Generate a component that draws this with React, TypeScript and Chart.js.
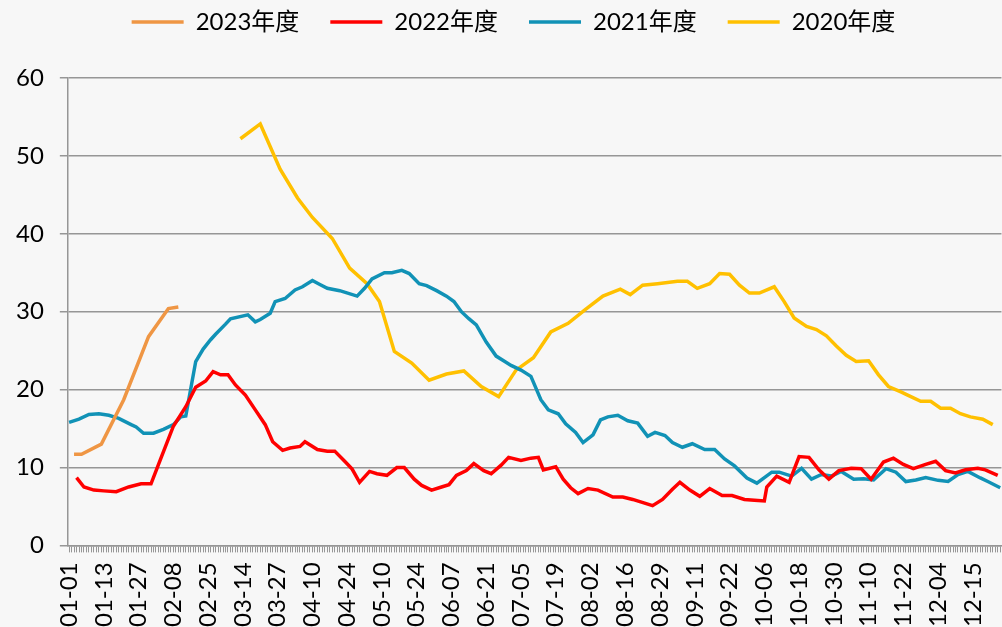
import React, { useEffect, useRef } from 'react';
import { Chart, registerables } from 'chart.js';

Chart.register(...registerables);

const tickLabels = ['01-01','01-13','01-27','02-08','02-25','03-14','03-27','04-10','04-24','05-10','05-24','06-07','06-21','07-05','07-19','08-02','08-16','08-29','09-11','09-22','10-06','10-18','10-30','11-10','11-22','12-04','12-15'];
const categoryCount = 376;
const labelEvery = 14;

const seriesNames = ['2023年度', '2022年度', '2021年度', '2020年度'];
const seriesColors = ['#EF9644', '#FF0000', '#1192B6', '#FFC000'];

const x2023 = [2, 5, 13, 22, 32, 40, 44];
const y2023 = [11.7, 11.7, 13.0, 18.7, 26.8, 30.4, 30.6];

const x2022 = [3,6,10,14,19,24,29,33,37,42,47,51,55,58,61,64,67,71,75,79,82,86,89,93,95,100,104,107,111,114,117,121,124,128,132,135,139,142,146,150,153,156,160,163,167,170,174,177,182,186,189,191,196,199,202,205,209,213,219,223,227,235,239,243,246,250,254,258,263,267,272,276,280,281,285,290,294,298,302,306,310,315,319,323,328,332,336,340,345,349,353,357,361,366,369,374];
const y2022 = [8.7,7.5,7.1,7.0,6.9,7.5,7.9,7.9,11.2,15.3,17.8,20.3,21.1,22.3,21.9,21.9,20.6,19.3,17.4,15.5,13.3,12.2,12.5,12.7,13.3,12.3,12.1,12.1,10.8,9.8,8.1,9.5,9.2,9.0,10.0,10.0,8.5,7.7,7.1,7.5,7.8,9.0,9.6,10.5,9.6,9.2,10.3,11.3,10.9,11.2,11.3,9.7,10.1,8.5,7.4,6.65,7.3,7.1,6.2,6.2,5.9,5.1,5.9,7.2,8.1,7.1,6.3,7.3,6.4,6.4,5.9,5.8,5.7,7.5,8.9,8.1,11.4,11.3,9.7,8.5,9.6,9.9,9.85,8.5,10.7,11.2,10.4,9.85,10.4,10.8,9.6,9.3,9.7,9.9,9.7,9.0];

const x2021 = [0,4,8,12,16,20,25,27,30,34,38,42,45,47,51,54,57,59,63,65,72,75,77,81,83,87,91,94,98,101,104,109,116,119,122,127,130,134,137,141,144,148,152,155,158,161,164,168,172,175,178,182,186,190,193,197,200,204,207,211,214,217,221,225,229,233,236,240,243,247,251,256,260,264,268,273,277,283,286,291,295,299,303,307,311,316,320,324,329,333,337,341,345,350,354,358,362,367,370,375];
const y2021 = [15.8,16.2,16.8,16.9,16.7,16.3,15.5,15.2,14.4,14.4,14.9,15.5,16.5,16.6,23.6,25.2,26.4,27.1,28.4,29.1,29.6,28.7,29.0,29.8,31.3,31.7,32.8,33.2,34.0,33.5,33.0,32.7,32.0,33.0,34.2,35.0,35.0,35.3,34.9,33.6,33.35,32.7,32.0,31.3,30.0,29.1,28.3,26.1,24.3,23.7,23.1,22.5,21.7,18.7,17.4,16.9,15.6,14.5,13.2,14.2,16.1,16.5,16.7,16.0,15.7,14.0,14.5,14.1,13.2,12.6,13.05,12.3,12.3,11.1,10.2,8.66,8.0,9.4,9.4,8.9,9.9,8.5,9.1,8.9,9.5,8.5,8.55,8.4,9.85,9.4,8.2,8.4,8.7,8.35,8.2,9.1,9.5,8.66,8.2,7.4];

const x2020 = [69,77,85,92,98,106,113,120,125,131,138,145,152,159,166,173,180,187,194,201,208,215,222,226,231,237,245,249,253,258,262,266,270,274,278,284,288,292,297,301,305,309,313,317,322,326,330,335,339,343,347,351,355,359,363,368,372];
const y2020 = [52.2,54.1,48.3,44.6,42.1,39.4,35.6,33.6,31.3,24.9,23.4,21.2,22.0,22.4,20.4,19.1,22.5,24.1,27.4,28.5,30.3,32.0,32.9,32.2,33.4,33.6,33.9,33.9,33.0,33.6,34.9,34.8,33.4,32.4,32.4,33.2,31.3,29.2,28.1,27.7,26.9,25.6,24.4,23.6,23.7,21.9,20.4,19.7,19.1,18.5,18.5,17.6,17.6,16.9,16.5,16.2,15.5];

const seriesX = [x2023, x2022, x2021, x2020];
const seriesY = [y2023, y2022, y2021, y2020];

const FONT = "Lato, 'Noto Sans CJK SC', sans-serif";
const GRID = '#969696';

const CANVAS_W = 1039;
const CANVAS_H = 627;

export default function App() {
  const ref = useRef<HTMLCanvasElement | null>(null);

  useEffect(() => {
    document.body.style.margin = '0';
    const canvas = ref.current;
    if (!canvas) return;
    const datasets = seriesNames.map((name, k) => ({
      label: name,
      data: seriesX[k].map((xv, i) => ({ x: xv, y: seriesY[k][i] })),
      borderColor: seriesColors[k],
      backgroundColor: seriesColors[k],
      borderWidth: 3.5,
      pointRadius: 0,
      tension: 0,
      fill: false,
    }));

    const legendTweak = {
      id: 'legendTweak',
      beforeInit(chart: any) {
        const legend = chart.legend;
        if (!legend) return;
        const fit = legend.fit;
        legend.fit = function () {
          fit.bind(legend)();
          this.height += 34;
        };
        const draw = legend.draw;
        legend.draw = function (...args: any[]) {
          const ctx = chart.ctx;
          ctx.save();
          ctx.translate(-6, 0);
          draw.apply(legend, args);
          ctx.restore();
        };
      },
    };

    const chart = new Chart(canvas, {
      type: 'line',
      data: { datasets },
      plugins: [legendTweak],
      options: {
        animation: false,
        responsive: false,
        devicePixelRatio: 1,
        layout: { padding: { top: -21, left: 0, right: 0, bottom: -10 } },
        plugins: {
          legend: {
            position: 'top',
            labels: {
              usePointStyle: true,
              pointStyle: 'line',
              pointStyleWidth: 52,
              padding: 31,
              color: '#000',
              font: { family: FONT, size: 24 },
            },
          },
          tooltip: { enabled: false },
        },
        scales: {
          x: {
            type: 'linear',
            min: -0.5,
            max: categoryCount - 0.5,
            afterBuildTicks: (scale: any) => {
              scale.ticks = Array.from({ length: categoryCount }, (_, i) => ({ value: i }));
            },
            ticks: {
              autoSkip: false,
              minRotation: 90,
              maxRotation: 90,
              padding: 10,
              color: '#000',
              font: { family: FONT, size: 24 },
              callback: (v: any) => (Number(v) % labelEvery === 0 ? tickLabels[Number(v) / labelEvery] ?? '' : ''),
            },
            grid: { drawOnChartArea: false, drawTicks: true, tickLength: 7, color: GRID, lineWidth: 1 },
            border: { color: GRID, width: 1.5 },
          },
          y: {
            min: 0,
            max: 60,
            ticks: {
              stepSize: 10,
              padding: 16,
              color: '#000',
              font: { family: FONT, size: 24 },
            },
            grid: { color: GRID, lineWidth: 1.5, tickLength: 8 },
            border: { color: GRID, width: 1.5 },
          },
        },
      },
    } as any);
    return () => chart.destroy();
  }, []);

  return (
    <div style={{ position: 'fixed', left: 0, top: 0, width: 1002, height: 627, overflow: 'hidden', background: '#f7f7f7' }}>
      <canvas ref={ref} width={CANVAS_W} height={CANVAS_H} style={{ width: CANVAS_W, height: CANVAS_H, display: 'block' }} />
    </div>
  );
}
